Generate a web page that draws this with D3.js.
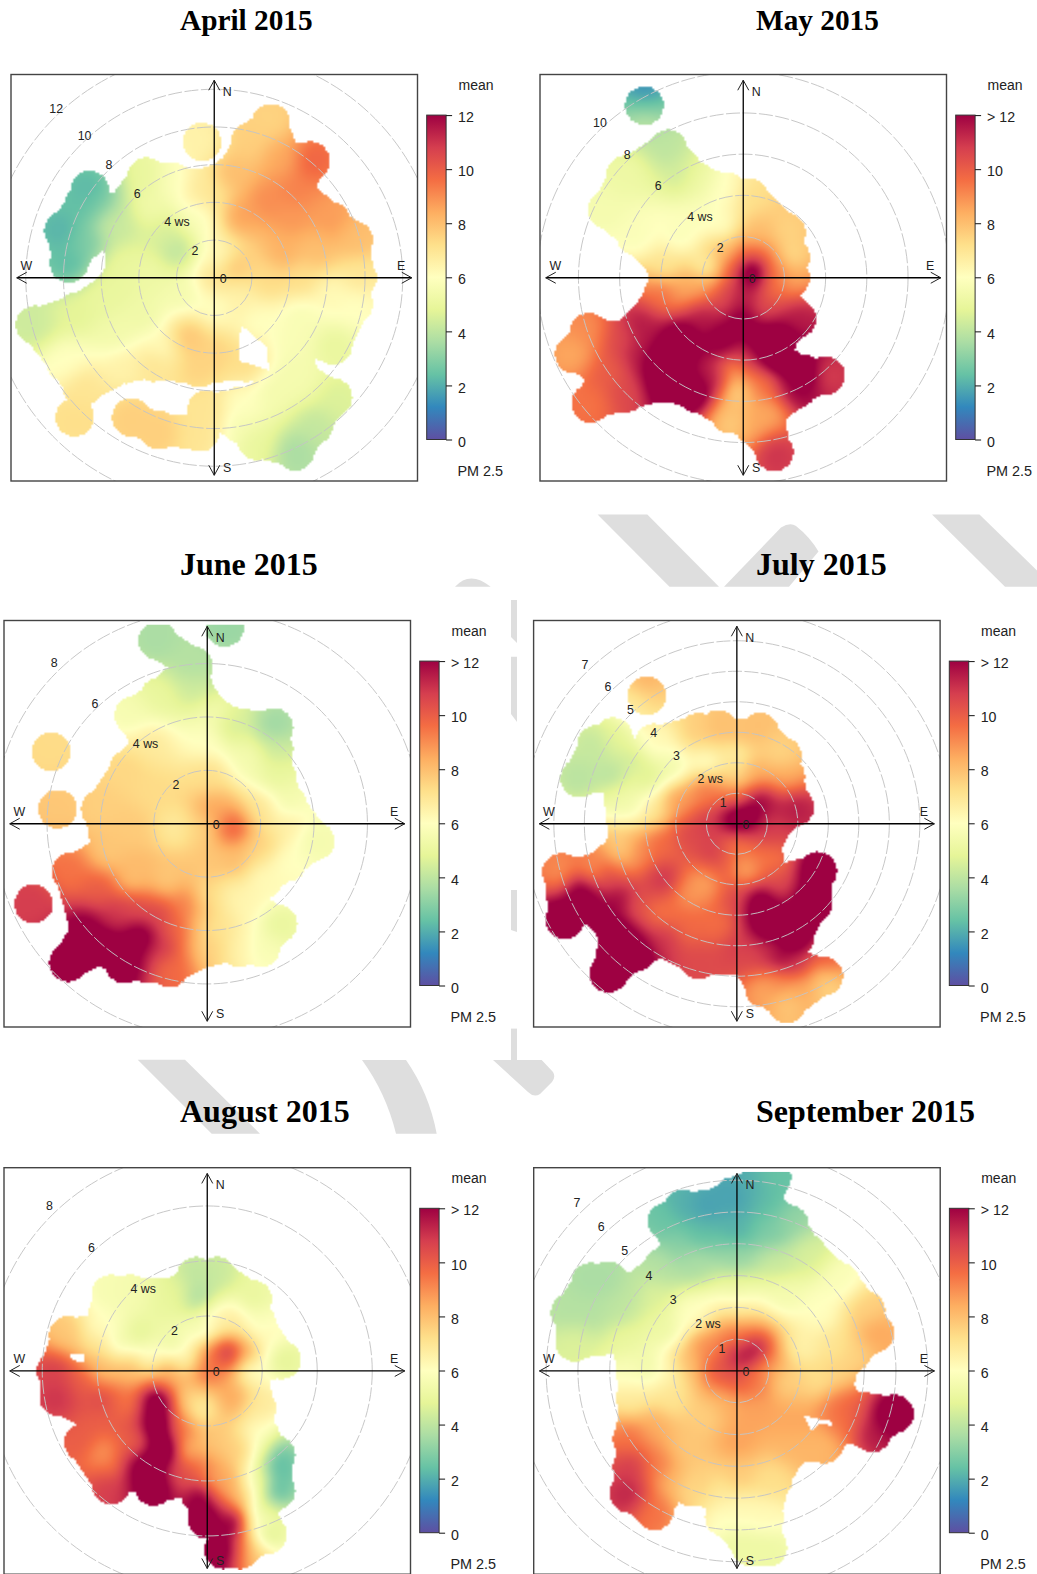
<!DOCTYPE html>
<html><head><meta charset="utf-8">
<script src="https://cdn.jsdelivr.net/npm/d3@7"></script>
<style>html,body{margin:0;padding:0;background:#fff}svg{display:block}</style></head>
<body><div id="chart"></div>
<script>
// Readings: [wind east ws, wind north ws, mean PM 2.5]
const monthTitles=["April 2015","May 2015","June 2015","July 2015","August 2015","September 2015"];
const legendTicks=[0,2,4,6,8,10,12];
const colourStops=["#5E4FA2","#3288BD","#66C2A5","#ABDDA4","#E6F598","#FFFFBF","#FEE08B","#FDAE61","#F46D43","#D53E4F","#9E0142"];

const aprilRing=[[-.8,4.8,6.8],[1,5.5,8],[1.9,7.2,7.6],[3,8.2,7.5],[3.7,6.4,8.5],[5.1,6.2,9.8],[4.3,4.6,9.2],[6.2,3,8.7],[7.4,2,8],[7.6,0,6.9],[7.4,-1.4,6],[6.3,-3.6,5],[4.4,-3.3,5.7],[4.6,-5.3,5.5],[1.7,-4.5,7.2],[-.8,-4.8,7.5],[-3.2,-4.5,7],[-4.7,-4.6,6.5],[-7,-5.8,7],[-7.9,-4.5,6],[-9.5,-2.5,4.3],[-7.3,-1.8,4.8],[-5.3,-.5,5],[-4.75,.75,5],[-5.4,3,4.2],[-3.6,5.35,5],[-2.2,5.1,5.8]];
const aprilLobe=[[-6.6,4.65,2.2],[-6.1,3.7,2.8],[-5.3,2.7,4.2],[-6.8,2,2.8],[-7.7,.75,2.3],[-8,2.5,2.1],[-6.9,3.9,2.3]];
const aprilBand=[[6.3,-6.35,4.6],[5.3,-7.8,4.1],[4.3,-9.2,3.6],[2.25,-8.65,5],[1.45,-7.8,5.6],[-.4,-7,7],[1.4,-6.8,6],[3.3,-6,5.5],[4.6,-5.3,5.5]];
const aprilTail=[[-.4,-7,7],[-.75,-8.2,7],[-2.9,-8.1,7.6],[-4.4,-7.4,7.6]];
const aprilDots=[[-7.4,-7.4,7.2],[-.65,7.2,6.5]];
const aprilInner=[[1,.6,7.8],[.3,1.1,6.2],[0,0,7],[-2,1.45,4],[-2.5,2.3,4.5],[-.8,3.2,5.8],[-3.4,3.8,5.3],[0,4.1,7],[1.4,3.4,8.6],[2.8,4.1,9],[4.2,3.2,8.8],[3.7,1.3,8.3],[5.4,1.45,8],[4.6,0,7.2],[2.8,-.1,7.3],[1.4,-1.2,6.5],[-.05,-1.6,6],[-1.65,-.85,5.5],[-3.4,.2,5.2],[-6.1,-1.2,5],[-3.8,-2.1,5.3],[-1.3,-3.15,7.8],[0,-4,7.5],[-2.9,-3.7,6.2],[-5.2,-3,5.4],[2.4,-2.3,6],[4.6,-2.1,5.7],[6.3,-.85,6.2]];
const aprilGaps=[[[1.4,-2.5],[2.8,-3.7],[2.9,-4.9],[1.3,-4.4]]];

const mayRing=[[-.8,4.2,6],[.3,3.9,7.2],[2.1,2.2,7.5],[2.3,1,7.3],[2.3,0,8.5],[1.6,-.5,9.6],[2.6,-2,11.5],[1.7,-3,13],[1.7,-4,13],[3,-4.7,13],[4,-4.75,10.8],[2.6,-5.4,12],[1.2,-6.6,8.5],[1.5,-8.45,11],[.5,-7.15,8.5],[-.65,-6.6,8],[-2.3,-5.6,13],[-3.8,-5.15,13],[-5.7,-5.6,10.5],[-7.4,-6.1,9.5],[-6.6,-4.6,10],[-8.2,-3.7,8.5],[-7.5,-2.65,9],[-6,-3,10.5],[-4.95,-2.3,11.5],[-3.9,-.8,9.5],[-3.75,.5,7],[-5.2,2,5.8],[-6.6,3.3,5.5],[-5.7,5,5.2],[-3.65,6.25,4],[-2.3,4.7,5.2]];
const mayDots=[[-4.8,8.35,2.5]];
const mayInner=[[-4.8,9.1,1.4],[-4.8,7.65,3.9],[.4,.3,13.5],[.4,1.2,10],[1.5,.4,9.5],[.5,2,8],[-.5,.5,10],[-.9,1.2,8],[-1.8,.5,6.5],[-3,2,5.8],[-2,3,5.8],[-3,5,4.4],[-1,2.5,6],[0,-1,11.5],[-1,-1,10.5],[-2,-.3,8.5],[-3,-.5,8.5],[-2,-2,11.5],[0,-2,12.5],[1,-1.5,10.5],[-1,-3,12.5],[-3,-3,13],[-4,-4,13],[0,-4,11],[-.3,-5.5,7.5],[-.3,-4.5,8.7],[1,-5,9.5],[-1.5,-5,11.5],[1.5,-4,13],[1,-3,13],[-.5,-7,7.6],[-5,-3.5,11.5]];

const juneRing=[[-.5,5.9,3.8],[-.5,5.15,4.3],[.3,4,5.5],[.85,3.7,4.5],[2.5,3.6,3.4],[2.5,2.8,4.3],[2.6,1.8,5],[3,.75,5.5],[4.05,-.65,5.5],[3,-1.45,6],[2.1,-2.1,6.2],[1.5,-3,6.3],[2.65,-3.75,5],[2,-4.65,5.7],[1.2,-4.65,6.5],[.2,-4.6,7.5],[-1.4,-5.4,9.7],[-3.1,-5.25,12.5],[-3.9,-4.6,13],[-5.2,-5.2,13],[-4.5,-4,12.5],[-5.1,-1.8,9.5],[-3.7,-1.05,7.8],[-4,.55,7.6],[-2.95,2.05,7.4],[-2.2,3,6.8],[-2.75,4.05,5.6],[-1.8,4.75,5]];
const juneTail=[[-1.85,6.85,3.6],[-.5,5.9,3.8]];
const juneDots=[[.65,7.35,3.3],[-5.85,2.7,7.3],[-5.6,.55,7.8],[-6.5,-3,10.8]];
const juneInner=[[1,-.15,9.9],[.2,.5,8.5],[-.3,-.15,7.5],[-1.15,-.15,6.8],[-2,1.15,7.3],[-2.8,-.15,7.7],[0,1.8,7.2],[0,3.1,6],[1.6,2.45,5.5],[2,.5,7],[3,0,6.6],[2,-.8,7.5],[1,-1.4,8],[0,-1.45,7.8],[-1.5,-2.1,7.8],[-2.8,-2.1,8],[0,-2.7,7.3],[1,-2.7,6.5],[-.8,-3,9.2],[-1,-4,9.8],[-1.8,-3.4,10.5],[-2.8,-3.1,10.5],[-4,-2.5,10],[-3.5,-3.4,11],[-2.5,-4.3,12.8],[-1.8,-4.65,11],[-.3,-4,7.8],[.2,-4,7]];

const julyRing=[[-.6,3.1,8],[.1,2.8,8],[.75,3,8],[1.5,2.2,7.5],[1.6,1.55,8.5],[1.9,.55,11.5],[1.05,-.25,10.8],[.9,-1.15,9.5],[1.3,-1.9,10.5],[2.65,-1.55,13],[2.5,-2.6,13],[1.9,-3.75,13],[1.4,-4.4,12],[2.85,-5,7.8],[1.65,-5.9,7.8],[.9,-5.4,8.5],[.3,-4.4,10.5],[-1.25,-4.45,10.5],[-2.5,-3.8,11],[-3.3,-4.2,13],[-4.2,-4.9,13],[-3.95,-3.6,13],[-4.9,-2.5,12.5],[-5.65,-3.15,13],[-5.75,-1.6,9],[-4.7,-1.6,8.8],[-3.7,-.8,7.6],[-3.75,.8,5.3],[-3.1,1.6,5],[-2.7,2.65,6.2],[-1.25,3,7.6]];
const julyLobe=[[-5.15,1.5,3.9],[-4.6,2.6,4.1],[-4.05,2.85,4.8],[-3.4,2,4.4],[-4.1,1.6,3.9]];
const julyDots=[[-2.95,4.2,7.5]];
const julyInner=[[0,.15,13],[.3,.3,13],[-1,0,10.8],[-1.6,-.35,10.5],[-.8,-1,10.8],[0,-.7,9.5],[-.6,-1.5,10],[.3,-1.5,8.5],[1.2,-1.25,9.5],[-1,-1.9,8.5],[-2.4,-1.8,11],[-3.3,-.9,9],[-2.5,-.7,9.7],[-2.8,.45,7],[-1.9,.8,8.7],[-1,1.1,9.3],[0,.9,9.5],[.75,.8,12],[0,1.55,7.2],[.65,1.55,8.5],[-1,2,6],[-2.15,1.8,5.4],[-2.95,1.55,4.5],[-3.3,.65,5.5],[0,2.35,6.5],[1.2,2.45,7.5],[-1.5,-2.25,8.8],[-2.5,-2.95,9.5],[-1.5,-3.4,9.7],[-.6,-3.3,9.6],[0,-2.4,10.5],[.75,-2.6,13],[1,-3.3,13],[.1,-4.05,10.8],[1,-4.3,11],[-3.3,-2.7,10.3],[-3.85,-2.6,12],[-4.4,-1.8,10.5],[-5.1,-2.15,12.5],[2,-4.65,11],[2.9,-4.5,10],[3,-5.45,7.5],[2.1,-5.3,8.5],[1.2,-5.2,9],[-2.95,4.6,8.3],[-3.3,3.95,6.8]];

const augustRing=[[-.4,3.45,4],[.35,3.45,4.2],[1.65,2.6,5],[1.8,1.75,5.8],[2.7,.4,4.8],[1.65,.05,6],[1.8,-1.35,6.8],[1.9,-2.3,6],[2.5,-3.05,2.4],[2.5,-4.35,2.3],[1.9,-5,5],[2.2,-5.95,4.6],[1.2,-6.5,10],[.6,-6.5,13],[.9,-5.5,13],[0,-5.4,13],[-.25,-4.5,12.5],[-.5,-3.9,10],[-1.95,-4.2,13],[-2.7,-3.6,12],[-3.5,-4.15,10.8],[-4.5,-2.6,10],[-3.9,-1.7,10],[-5.4,-.95,11],[-5.5,0,10.7],[-5.05,1.3,7.8],[-3.9,1.5,6],[-3.5,2.8,5.6],[-2.8,2.8,5.5],[-1,2.8,4.8]];
const augustInner=[[-.4,2.7,3.6],[-1.5,2.35,5],[-2.45,1.35,4.8],[-1.25,1,5.2],[-2.1,.5,6],[-.75,.5,6.4],[-.15,1.5,5.5],[.35,1.75,6.5],[.75,.7,11.3],[.2,.6,9.5],[1.45,.75,8.5],[2,1.1,6.2],[.95,1.75,6.8],[0,0,9.5],[-1.5,-.1,8.5],[-2.7,0,8],[-3.9,.1,8],[-3.9,1.1,7],[-3.2,1.1,5.5],[-4.5,-.35,10],[-3.9,-1.1,10.5],[-2.9,-1.1,9.5],[-1.85,-1.1,13],[-1.7,-2,13.5],[-1.5,-2.85,13.5],[-2.2,-3.6,13.5],[-2.7,-2.6,10],[-3.8,-3,8.8],[-3.4,-3.5,9.5],[-.6,-1.1,7.5],[-.25,-1.35,6.6],[-1.1,-2,9.5],[.95,-1,8.5],[.2,-2.5,7.8],[-.75,-2.85,8.3],[-1,-3.7,10.5],[.2,-4,8.6],[1.2,-2.85,7.6],[2,-2.85,5.5],[1.8,-4.1,5.5],[1.2,-4.7,8],[.7,-4.1,8.5],[.7,-5.3,11],[1.8,-5.6,6],[1.65,-6.55,7.5],[2.6,-3.5,2.2]];
const augustGaps=[[[-5,.62],[-4.45,.62],[-4.45,.28],[-4.9,.4]]];

const septemberRing=[[-.1,5.5,1.7],[.45,5.7,2],[1.1,6.1,2.4],[.9,5.2,2.3],[1.65,4.6,3.2],[2.2,3.7,4.5],[3.25,2.8,5.8],[4.05,1.9,7.6],[4.35,1.2,8.5],[3.6,.55,7.5],[3.15,-.1,7.5],[3.25,-1.05,9.5],[4.95,-1.35,12.6],[4.25,-1.95,11.5],[3.3,-1.7,9.5],[2.75,-2.3,8.2],[1.75,-2.4,8.2],[1.15,-3.4,7.2],[.87,-4.6,6.2],[.97,-5.55,5.2],[.45,-5.55,5.2],[-.4,-4.6,6],[-.5,-3.9,6.8],[-1.45,-3.65,7.3],[-2,-3.4,8.2],[-2.6,-4.4,9.5],[-3.4,-3.85,11.3],[-3.3,-3,10.8],[-3.3,-2.15,9.5],[-3.2,-.85,6.8],[-3.2,-.1,5.8],[-3.5,1.1,5],[-5.1,.9,4.6],[-5.25,1.85,3.8],[-4.6,2.8,3.6],[-4.05,2.85,3.6],[-3.3,2.5,4],[-2.35,3.25,3.8],[-1.8,3.9,3],[-2.2,4.7,2.5],[-1.7,5.1,2],[-1,5.1,1.7]];
const septemberInner=[[.1,.4,11.5],[.5,.55,11.8],[-.55,.1,10.2],[0,-.3,10.2],[.5,-.3,9.5],[.9,.1,8.8],[0,1.2,9.3],[-.95,.75,9],[-1.6,.2,8],[-2.1,0,6.3],[-2.85,.1,5.3],[0,1.95,6.8],[-1.4,1.8,6],[-2.3,1.3,5.2],[0,2.55,5.2],[0,3.5,3.3],[0,4.4,2.1],[0,5.35,1.8],[-1.2,4.4,2.3],[1.15,4.4,2.8],[-1.4,3.4,3.6],[1.35,3.4,4.2],[-2.65,2.35,4.6],[-3.7,1.8,4],[-4.5,1.8,3.8],[1.55,2.45,5.5],[2.6,1.8,6],[2.1,.75,6.5],[3.1,.75,7],[2.6,-.3,7.2],[1.55,-.3,7.6],[.5,-1.2,8.6],[-.35,-1,8.3],[1.75,-1.6,8.5],[-.95,-1.4,7.6],[-2.1,-.85,7],[-2.65,-1.7,8.4],[-1.6,-2.45,7.8],[-2.45,-3,9.3],[0,-2.25,8.6],[0,-3.3,7.7],[-1.2,-3.55,7.6],[0,-4.4,6.2],[0,-5.45,5.2],[4.7,-1.4,12.5],[3.65,-1.2,10],[2.6,-2.45,8.2]];
const septemberGaps=[[[2.1,-1.4],[2.35,-1.9],[2.6,-1.65],[3,-1.72],[2.95,-1.58],[2.5,-1.5]]];

const panels=[
 {title:0,fx:11,fy:74.5,tx:180,ty:30,ts:29.3,pxPerWs:18.85,top:"12",rings:[2,4,6,8,10,12],rows:[aprilRing,aprilLobe,aprilBand],tails:[aprilTail],dots:aprilDots,inner:aprilInner,gaps:aprilGaps,
  labels:[["2",-19.3,-26.7],["4 ws",-37.3,-55.3],["6",-77,-84],["8",-105.3,-112.7],["10",-129.7,-141.3],["12",-158,-169]]},
 {title:1,fx:540,fy:74.5,tx:756,ty:30,ts:29.3,pxPerWs:20.6,top:"> 12",rings:[2,4,6,8,10],rows:[mayRing],tails:[],dots:mayDots,inner:mayInner,gaps:[],
  labels:[["2",-23,-30],["4 ws",-43.3,-60.7],["6",-85,-92],["8",-116,-122.7],["10",-143.3,-154.7]]},
 {title:2,fx:4,fy:620.5,tx:180,ty:575,ts:32,pxPerWs:26.7,top:"> 12",rings:[2,4,6,8],rows:[juneRing],tails:[juneTail],dots:juneDots,inner:juneInner,gaps:[],
  labels:[["2",-31.3,-38.9],["4 ws",-61.7,-79.5],["6",-112.3,-119.5],["8",-153,-160.5]]},
 {title:3,fx:533.6,fy:620.5,tx:756,ty:575,ts:32,pxPerWs:30.5,top:"> 12",rings:[1,2,3,4,5,6,7],rows:[julyRing,julyLobe],tails:[],dots:julyDots,inner:julyInner,gaps:[],
  labels:[["1",-13.7,-21],["2 ws",-26.7,-44.4],["3",-60.3,-67.8],["4",-83.2,-90.6],["5",-106.5,-114],["6",-128.8,-137],["7",-152,-159]]},
 {title:4,fx:4,fy:1167.7,tx:180,ty:1122,ts:32,pxPerWs:27.5,top:"> 12",rings:[2,4,6,8],rows:[augustRing],tails:[],dots:[],inner:augustInner,gaps:augustGaps,
  labels:[["2",-32.7,-40.2],["4 ws",-64,-81.7],["6",-115.7,-123],["8",-157.7,-164.5]]},
 {title:5,fx:533.7,fy:1167.7,tx:756,ty:1122,ts:32,pxPerWs:31.8,top:"> 12",rings:[1,2,3,4,5,6,7],rows:[septemberRing],tails:[],dots:[],inner:septemberInner,gaps:septemberGaps,
  labels:[["1",-15,-22],["2 ws",-29,-46.7],["3",-63.7,-70.8],["4",-88,-95.4],["5",-112.3,-119.6],["6",-135.7,-144],["7",-160,-168]]}
];

const watermark=[
"M597.6,514.5L647.3,514.5L719,586.8L669.5,586.8Z",
"M724,586.8L781,527.5Q790,522 796,526Q810,537 818.5,551.6L789,586.8Z",
"M932,514.5L979.5,514.5L1037,570.6L1037,586.8L1005,586.8Z",
"M455,586.8Q470,570 490.7,586.8Z",
"M511,600L517,600L517,643L511,637Z","M511,656.7L517,656.7L517,722L511,714Z","M511,890L517,890L517,932L511,930Z","M511,1028.6L517,1028.6L517,1060L511,1060Z",
"M137.7,1059.8L185,1059.8L260,1133.7L211.7,1133.7Z",
"M362,1060L406,1060Q429,1093 436.7,1133.7L396,1133.7Q386,1093 362,1060Z",
"M493,1060L541.7,1060L553,1072Q556,1077 552,1082L540,1094Q534,1098 528,1092Z"
];

const W=1037,H=1574,FRAME=406.5,HALF=FRAME/2,EXTENT=199,CELL=2,BLOB=19.3,SOFT=3;
const svg=d3.select("#chart").append("svg").attr("width",W).attr("height",H).attr("font-family","'Liberation Sans',Arial,sans-serif");
const defs=svg.append("defs");
svg.append("g").selectAll("path").data(watermark).join("path").attr("d",d=>d).attr("fill","#dedede");

const colour=d3.scaleLinear().domain(colourStops.map((_,i)=>i*1.2)).range(colourStops).clamp(true);
const grad=defs.append("linearGradient").attr("id","legendRamp").attr("x1",0).attr("x2",0).attr("y1",1).attr("y2",0);
grad.selectAll("stop").data(colourStops).join("stop").attr("offset",(_,i)=>i/(colourStops.length-1)).attr("stop-color",d=>d);

function segDist(px,py,a,b){
  const dx=b[0]-a[0],dy=b[1]-a[1],l=dx*dx+dy*dy;
  let t=l?((px-a[0])*dx+(py-a[1])*dy)/l:0;t=Math.max(0,Math.min(1,t));
  return Math.hypot(px-a[0]-t*dx,py-a[1]-t*dy);
}
function smooth(f,n){
  let s=f,t=new Float32Array(f.length);
  const pass=(src,dst,step,across)=>{
    for(let a=0;a<n;a++){
      for(let b=0;b<n;b++){
        let sum=0,c=0;
        for(let k=-SOFT;k<=SOFT;k++){const q=b+k;if(q<0||q>=n)continue;sum+=src[a*across+q*step];c++;}
        dst[a*across+b*step]=sum/c;
      }
    }
  };
  for(let i=0;i<3;i++){pass(s,t,1,n);pass(t,s,n,1);}
  return s;
}
function raster(p,x,y){
  const pt=d=>[x(d[0]),y(d[1]),d[2]];
  const rows=p.rows.map(r=>r.map(pt)),tails=p.tails.map(r=>r.map(pt)),dots=p.dots.map(pt),inner=p.inner.map(pt);
  const gaps=p.gaps.map(g=>g.map(d=>[x(d[0]),y(d[1])]));
  const all=[].concat(...rows,...tails,dots,inner);
  const segs=[];
  rows.forEach(r=>r.forEach((a,i)=>segs.push([a,r[(i+1)%r.length]])));
  tails.forEach(r=>r.slice(1).forEach((a,i)=>segs.push([r[i],a])));
  const verts=[].concat(...rows,...tails,dots);
  const cx=x(0),cy=y(0),n=Math.round(2*EXTENT/CELL);
  const field=new Float32Array(n*n);
  for(let j=0;j<n;j++)for(let i=0;i<n;i++){
    const px=cx-EXTENT+(i+.5)*CELL,py=cy-EXTENT+(j+.5)*CELL;
    let sw=0,sv=0;
    for(const a of all){const d2=(px-a[0])**2+(py-a[1])**2+40;const w=1/(d2*d2);sw+=w;sv+=w*a[2];}
    field[j*n+i]=sv/sw;
  }
  const soft=smooth(field,n);
  const c=document.createElement("canvas");c.width=c.height=n;
  const g=c.getContext("2d"),img=g.createImageData(n,n);
  for(let j=0;j<n;j++)for(let i=0;i<n;i++){
    const px=cx-EXTENT+(i+.5)*CELL,py=cy-EXTENT+(j+.5)*CELL;
    let on=rows.some(r=>d3.polygonContains(r,[px,py]));
    if(!on)on=verts.some(v=>Math.hypot(px-v[0],py-v[1])<=BLOB);
    if(!on)on=segs.some(s=>segDist(px,py,s[0],s[1])<=BLOB*.85);
    if(!on||gaps.some(q=>d3.polygonContains(q,[px,py])))continue;
    const col=d3.rgb(colour(soft[j*n+i])),k=(j*n+i)*4;
    img.data[k]=col.r;img.data[k+1]=col.g;img.data[k+2]=col.b;img.data[k+3]=255;
  }
  g.putImageData(img,0,0);
  return c.toDataURL();
}

panels.forEach((p,pi)=>{
  const cx=p.fx+HALF,cy=p.fy+HALF;
  const x=d3.scaleLinear().domain([0,1]).range([cx,cx+p.pxPerWs]);
  const y=d3.scaleLinear().domain([0,1]).range([cy,cy-p.pxPerWs]);
  const radius=d3.scaleLinear().domain([0,1]).range([0,p.pxPerWs]);
  svg.append("text").attr("x",p.tx).attr("y",p.ty).attr("font-family","'Liberation Serif','Times New Roman',serif").attr("font-weight","bold").attr("font-size",p.ts).attr("fill","#000").text(monthTitles[p.title]);
  defs.append("clipPath").attr("id","clip"+pi).append("rect").attr("x",p.fx).attr("y",p.fy).attr("width",FRAME).attr("height",FRAME);
  const g=svg.append("g");
  g.append("rect").attr("x",p.fx).attr("y",p.fy).attr("width",FRAME).attr("height",FRAME).attr("fill","#fff");
  g.append("image").attr("x",cx-EXTENT).attr("y",cy-EXTENT).attr("width",2*EXTENT).attr("height",2*EXTENT).attr("href",raster(p,x,y));
  g.append("g").attr("clip-path",`url(#clip${pi})`).selectAll("circle").data(p.rings).join("circle")
    .attr("cx",cx).attr("cy",cy).attr("r",d=>radius(d)).attr("fill","none").attr("stroke","#c4c4c4").attr("stroke-width",.95).attr("stroke-dasharray","14 2.5");
  const A=197.5,B=5.5,L=10;
  const axes=g.append("g").attr("stroke","#000").attr("stroke-width",1.3).attr("fill","none");
  axes.append("path").attr("d",`M${cx-A},${cy}L${cx+A},${cy}M${cx},${cy-A}L${cx},${cy+A}`);
  axes.append("path").attr("stroke-width",1).attr("stroke","#222").attr("d",
    `M${cx-B},${cy-A+L}L${cx},${cy-A}L${cx+B},${cy-A+L}M${cx-B},${cy+A-L}L${cx},${cy+A}L${cx+B},${cy+A-L}`+
    `M${cx-A+L},${cy-B}L${cx-A},${cy}L${cx-A+L},${cy+B}M${cx+A-L},${cy-B}L${cx+A},${cy}L${cx+A-L},${cy+B}`);
  const labelG=g.append("g").attr("font-size",12.4).attr("fill","#222").attr("text-anchor","middle").attr("dominant-baseline","central");
  [["N",13,-186],["E",187,-12],["S",13,190],["W",-188,-12],["0",9,1]].concat(p.labels).forEach(l=>{
    labelG.append("text").attr("x",cx+l[1]).attr("y",cy+l[2]).text(l[0]);
  });
  g.append("rect").attr("x",p.fx).attr("y",p.fy).attr("width",FRAME).attr("height",FRAME).attr("fill","none").attr("stroke","#444").attr("stroke-width",1.4);
  const right=p.fx+FRAME,top=p.fy+40.6,bottom=p.fy+365;
  const key=d3.scaleLinear().domain([0,12]).range([bottom,top]);
  svg.append("rect").attr("x",right+9.2).attr("y",top).attr("width",19.4).attr("height",bottom-top).attr("fill","url(#legendRamp)").attr("stroke","#333").attr("stroke-width",1);
  const ax=svg.append("g").attr("transform",`translate(${right+28.6},0)`)
    .call(d3.axisRight(key).tickValues(legendTicks).tickSize(6).tickPadding(6).tickFormat(d=>d===12?p.top:String(d)));
  ax.select(".domain").remove();
  ax.selectAll("line").attr("stroke","#111");
  ax.selectAll("text").attr("font-size",14.2).attr("font-family","'Liberation Sans',Arial,sans-serif").attr("fill","#222").attr("dy","0.47em");
  svg.append("text").attr("x",right+41).attr("y",p.fy+10.7).attr("dominant-baseline","central").attr("font-size",14).attr("fill","#222").text("mean");
  svg.append("text").attr("x",right+40).attr("y",p.fy+396.5).attr("dominant-baseline","central").attr("font-size",14.4).attr("fill","#222").text("PM 2.5");
});
</script></body></html>
